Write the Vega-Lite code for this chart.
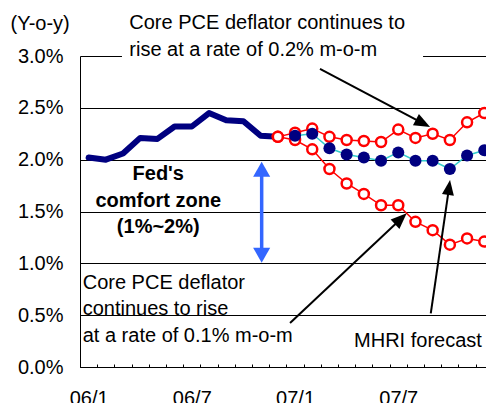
{
  "$schema": "https://vega.github.io/schema/vega-lite/v6.json",
  "width": 406,
  "height": 311,
  "autosize": {"type": "none"},
  "padding": {"left": 80, "top": 56, "right": 0, "bottom": 36},
  "background": "white",
  "config": {"view": {"stroke": null}, "font": "Liberation Sans"},
  "datasets": {
    "series": [
      {"m": 0, "series": "Actual", "v": 2.02},
      {"m": 1, "series": "Actual", "v": 2.00},
      {"m": 2, "series": "Actual", "v": 2.06},
      {"m": 3, "series": "Actual", "v": 2.21},
      {"m": 4, "series": "Actual", "v": 2.20},
      {"m": 5, "series": "Actual", "v": 2.32},
      {"m": 6, "series": "Actual", "v": 2.32},
      {"m": 7, "series": "Actual", "v": 2.45},
      {"m": 8, "series": "Actual", "v": 2.38},
      {"m": 9, "series": "Actual", "v": 2.37},
      {"m": 10, "series": "Actual", "v": 2.23},
      {"m": 11, "series": "Actual", "v": 2.22},
      {"m": 11, "series": "0.2% m-o-m", "v": 2.22},
      {"m": 12, "series": "0.2% m-o-m", "v": 2.26},
      {"m": 13, "series": "0.2% m-o-m", "v": 2.30},
      {"m": 14, "series": "0.2% m-o-m", "v": 2.22},
      {"m": 15, "series": "0.2% m-o-m", "v": 2.19},
      {"m": 16, "series": "0.2% m-o-m", "v": 2.18},
      {"m": 17, "series": "0.2% m-o-m", "v": 2.17},
      {"m": 18, "series": "0.2% m-o-m", "v": 2.29},
      {"m": 19, "series": "0.2% m-o-m", "v": 2.21},
      {"m": 20, "series": "0.2% m-o-m", "v": 2.25},
      {"m": 21, "series": "0.2% m-o-m", "v": 2.19},
      {"m": 22, "series": "0.2% m-o-m", "v": 2.36},
      {"m": 23, "series": "0.2% m-o-m", "v": 2.45},
      {"m": 11, "series": "0.1% m-o-m", "v": 2.22},
      {"m": 12, "series": "0.1% m-o-m", "v": 2.19},
      {"m": 13, "series": "0.1% m-o-m", "v": 2.10},
      {"m": 14, "series": "0.1% m-o-m", "v": 1.91},
      {"m": 15, "series": "0.1% m-o-m", "v": 1.77},
      {"m": 16, "series": "0.1% m-o-m", "v": 1.67},
      {"m": 17, "series": "0.1% m-o-m", "v": 1.56},
      {"m": 18, "series": "0.1% m-o-m", "v": 1.56},
      {"m": 19, "series": "0.1% m-o-m", "v": 1.40},
      {"m": 20, "series": "0.1% m-o-m", "v": 1.32},
      {"m": 21, "series": "0.1% m-o-m", "v": 1.18},
      {"m": 22, "series": "0.1% m-o-m", "v": 1.24},
      {"m": 23, "series": "0.1% m-o-m", "v": 1.21},
      {"m": 12, "series": "MHRI forecast", "v": 2.23},
      {"m": 13, "series": "MHRI forecast", "v": 2.25},
      {"m": 14, "series": "MHRI forecast", "v": 2.11},
      {"m": 15, "series": "MHRI forecast", "v": 2.05},
      {"m": 16, "series": "MHRI forecast", "v": 2.02},
      {"m": 17, "series": "MHRI forecast", "v": 1.99},
      {"m": 18, "series": "MHRI forecast", "v": 2.07},
      {"m": 19, "series": "MHRI forecast", "v": 1.99},
      {"m": 20, "series": "MHRI forecast", "v": 1.99},
      {"m": 21, "series": "MHRI forecast", "v": 1.91},
      {"m": 22, "series": "MHRI forecast", "v": 2.04},
      {"m": 23, "series": "MHRI forecast", "v": 2.09}
    ],
    "box": [{"m": 1.94, "m2": 19.44, "v": 2.90, "v2": 3.46}],
    "notes": [
      {"m": 2.366, "v": 3.257, "text": "Core PCE deflator continues to"},
      {"m": 2.366, "v": 3.0, "text": "rise at a rate of 0.2% m-o-m"},
      {"m": -0.343, "v": 0.757, "text": "Core PCE deflator"},
      {"m": -0.343, "v": 0.499, "text": "continues to rise"},
      {"m": -0.343, "v": 0.238, "text": "at a rate of 0.1% m-o-m"},
      {"m": 15.43, "v": 0.196, "text": "MHRI forecast"}
    ],
    "zone": [
      {"m": 4.05, "v": 1.804, "text": "Fed's"},
      {"m": 4.05, "v": 1.546, "text": "comfort zone"},
      {"m": 4.05, "v": 1.29, "text": "(1%~2%)"}
    ],
    "arrows": [
      {"id": "a1", "m": 13.45, "v": 2.875, "m2": 19.44, "v2": 2.351},
      {"id": "a2", "m": 11.71, "v": 0.424, "m2": 18.16, "v2": 1.43},
      {"id": "a3", "m": 19.89, "v": 0.518, "m2": 20.95, "v2": 1.728}
    ],
    "zoneArrow": [{"m": 10.06, "v": 1.07, "m2": 10.06, "v2": 1.91}],
    "heads": [
      {"id": "a1", "m": 19.85, "v": 2.315},
      {"id": "a2", "m": 18.49, "v": 1.483},
      {"id": "a3", "m": 21.01, "v": 1.804},
      {"id": "top", "m": 10.06, "v": 1.98},
      {"id": "bottom", "m": 10.06, "v": 1.005}
    ]
  },
  "encoding": {
    "x": {
      "field": "m",
      "type": "quantitative",
      "scale": {"domain": [-0.5, 23.1], "nice": false, "zero": false},
      "axis": {
        "values": [0,1,2,3,4,5,6,7,8,9,10,11,12,13,14,15,16,17,18,19,20,21,22,23],
        "title": null,
        "grid": false,
        "domainColor": "black",
        "domainWidth": 1,
        "ticks": true,
        "tickSize": -3,
        "tickColor": "black",
        "tickWidth": 1,
        "tickOffset": -8.6,
        "labelOffset": 8.6,
        "labelExpr": "datum.value==0?'06/1':datum.value==6?'06/7':datum.value==12?'07/1':datum.value==18?'07/7':''",
        "labelFont": "Liberation Sans",
        "labelFontSize": 20,
        "labelColor": "black",
        "labelPadding": 24,
        "labelOverlap": false,
        "labelFlush": false,
        "labelBound": false
      }
    },
    "y": {
      "field": "v",
      "type": "quantitative",
      "scale": {"domain": [0, 3], "nice": false, "zero": false},
      "axis": {
        "values": [0, 0.5, 1, 1.5, 2, 2.5, 3],
        "title": "(Y-o-y)",
        "titleAngle": 0,
        "titleX": -70,
        "titleY": -26.7,
        "titleAlign": "left",
        "titleBaseline": "alphabetic",
        "titleFont": "Liberation Sans",
        "titleFontSize": 20,
        "titleFontWeight": "normal",
        "titleColor": "black",
        "grid": true,
        "gridColor": "black",
        "gridWidth": 1,
        "domainColor": "black",
        "ticks": false,
        "labelPadding": 17,
        "labelFont": "Liberation Sans",
        "labelFontSize": 20,
        "labelColor": "black",
        "labelExpr": "format(datum.value, '.1f') + '%'"
      }
    }
  },
  "layer": [
    {
      "data": {"name": "series"},
      "transform": [{"filter": "datum.series == 'Actual'"}],
      "mark": {"type": "line", "color": "#000080", "strokeWidth": 6, "strokeCap": "round", "strokeJoin": "round", "clip": true}
    },
    {
      "data": {"name": "series"},
      "transform": [{"filter": "datum.series == '0.2% m-o-m' || datum.series == '0.1% m-o-m'"}],
      "mark": {"type": "line", "color": "#FF0000", "strokeWidth": 1.5, "clip": true},
      "encoding": {"detail": {"field": "series"}}
    },
    {
      "data": {"name": "series"},
      "transform": [{"filter": "datum.series == '0.2% m-o-m' || datum.series == '0.1% m-o-m'"}],
      "mark": {"type": "point", "shape": "circle", "filled": true, "fill": "white", "stroke": "#FF0000", "strokeWidth": 2.5, "size": 100, "opacity": 1, "clip": true}
    },
    {
      "data": {"name": "series"},
      "transform": [{"filter": "datum.series == 'MHRI forecast'"}],
      "mark": {"type": "line", "color": "#33CCCC", "strokeWidth": 1.5, "clip": true}
    },
    {
      "data": {"name": "series"},
      "transform": [{"filter": "datum.series == 'MHRI forecast'"}],
      "mark": {"type": "point", "shape": "circle", "filled": true, "color": "#000080", "size": 145, "opacity": 1, "clip": true}
    },
    {
      "data": {"name": "box"},
      "mark": {"type": "rect", "fill": "white", "clip": false},
      "encoding": {"x2": {"field": "m2"}, "y2": {"field": "v2"}}
    },
    {
      "data": {"name": "notes"},
      "mark": {"type": "text", "align": "left", "baseline": "alphabetic", "font": "Liberation Sans", "fontSize": 20, "color": "black"},
      "encoding": {"text": {"field": "text"}}
    },
    {
      "data": {"name": "zone"},
      "mark": {"type": "text", "align": "center", "baseline": "alphabetic", "font": "Liberation Sans", "fontSize": 20, "fontWeight": "bold", "color": "black"},
      "encoding": {"text": {"field": "text"}}
    },
    {
      "data": {"name": "arrows"},
      "mark": {"type": "rule", "color": "black", "strokeWidth": 2},
      "encoding": {"x2": {"field": "m2"}, "y2": {"field": "v2"}}
    },
    {
      "data": {"name": "zoneArrow"},
      "mark": {"type": "rule", "color": "#3366FF", "strokeWidth": 3.5},
      "encoding": {"x2": {"field": "m2"}, "y2": {"field": "v2"}}
    },
    {
      "data": {"name": "heads"},
      "transform": [{"filter": "datum.id == 'a1'"}],
      "mark": {"type": "point", "shape": "M0,0L-0.4,1L0.4,1Z", "size": 1024, "filled": true, "color": "black", "opacity": 1, "angle": 117.8}
    },
    {
      "data": {"name": "heads"},
      "transform": [{"filter": "datum.id == 'a2'"}],
      "mark": {"type": "point", "shape": "M0,0L-0.4,1L0.4,1Z", "size": 1024, "filled": true, "color": "black", "opacity": 1, "angle": 46.8}
    },
    {
      "data": {"name": "heads"},
      "transform": [{"filter": "datum.id == 'a3'"}],
      "mark": {"type": "point", "shape": "M0,0L-0.4,1L0.4,1Z", "size": 900, "filled": true, "color": "black", "opacity": 1, "angle": 8.2}
    },
    {
      "data": {"name": "heads"},
      "transform": [{"filter": "datum.id == 'top'"}],
      "mark": {"type": "point", "shape": "M0,0L-0.57,1L0.57,1Z", "size": 900, "filled": true, "color": "#3366FF", "opacity": 1, "angle": 0}
    },
    {
      "data": {"name": "heads"},
      "transform": [{"filter": "datum.id == 'bottom'"}],
      "mark": {"type": "point", "shape": "M0,0L-0.57,1L0.57,1Z", "size": 900, "filled": true, "color": "#3366FF", "opacity": 1, "angle": 180}
    }
  ]
}
